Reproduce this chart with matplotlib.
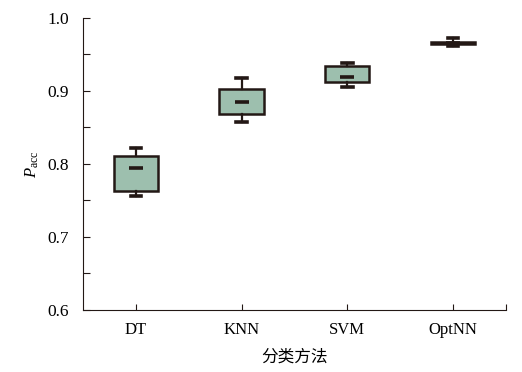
import matplotlib
matplotlib.use("Agg")
import matplotlib.pyplot as plt
from matplotlib.ticker import MultipleLocator

plt.rcParams['font.family'] = ['Liberation Serif', 'Noto Sans CJK SC']
plt.rcParams['mathtext.fontset'] = 'custom'
plt.rcParams['mathtext.rm'] = 'Liberation Serif'
plt.rcParams['mathtext.it'] = 'Liberation Serif:italic'

methods = ['DT', 'KNN', 'SVM', 'OptNN']
whislo = [0.756, 0.857, 0.905, 0.962]
q1 = [0.763, 0.868, 0.912, 0.964]
med = [0.795, 0.885, 0.919, 0.966]
q3 = [0.811, 0.903, 0.934, 0.967]
whishi = [0.822, 0.918, 0.939, 0.972]

edge = '#231815'
fill = '#9dbfae'

stats = []
for i, name in enumerate(methods):
    stats.append(dict(label=name, whislo=whislo[i], q1=q1[i], med=med[i],
                      q3=q3[i], whishi=whishi[i], fliers=[]))

fig = plt.figure(figsize=(5.22, 3.72), dpi=100)
ax = fig.add_axes([0.159, 0.1667, 0.81, 0.785])

pos = list(range(1, len(methods) + 1))
ax.bxp(stats, positions=pos, widths=0.42, patch_artist=True,
       boxprops=dict(facecolor=fill, edgecolor=edge, linewidth=1.8),
       whiskerprops=dict(color=edge, linewidth=1.6),
       capprops=dict(color=edge, linewidth=2.6),
       medianprops=dict(linewidth=0),
       capwidths=0.1)
ax.plot(pos, med, linestyle='none', marker='_', markersize=10,
        markeredgewidth=2.6, color=edge, zorder=5)

ax.set_xlim(0.5, 4.5)
ax.set_ylim(0.6, 1.0)
ax.set_xticks(pos + [4.5])
ax.set_xticklabels(methods + [''], fontsize=12)
ax.yaxis.set_minor_locator(MultipleLocator(0.05))
ax.set_yticks([0.6, 0.7, 0.8, 0.9, 1.0])
ax.set_yticklabels(['0.6', '0.7', '0.8', '0.9', '1.0'], fontsize=12.5)
ax.tick_params(axis='both', which='both', direction='in', color=edge, width=0.8)
ax.tick_params(axis='y', which='both', length=5, pad=10)
ax.tick_params(axis='x', length=4, pad=9)

for s in ['top', 'right']:
    ax.spines[s].set_visible(False)
for s in ['left', 'bottom']:
    ax.spines[s].set_color(edge)
    ax.spines[s].set_linewidth(0.8)

ax.set_ylabel(r'$P_{\rm acc}$', fontsize=12, labelpad=5)
ax.set_xlabel('分类方法', fontsize=12, labelpad=8)

fig.savefig('out.png', dpi=100)
